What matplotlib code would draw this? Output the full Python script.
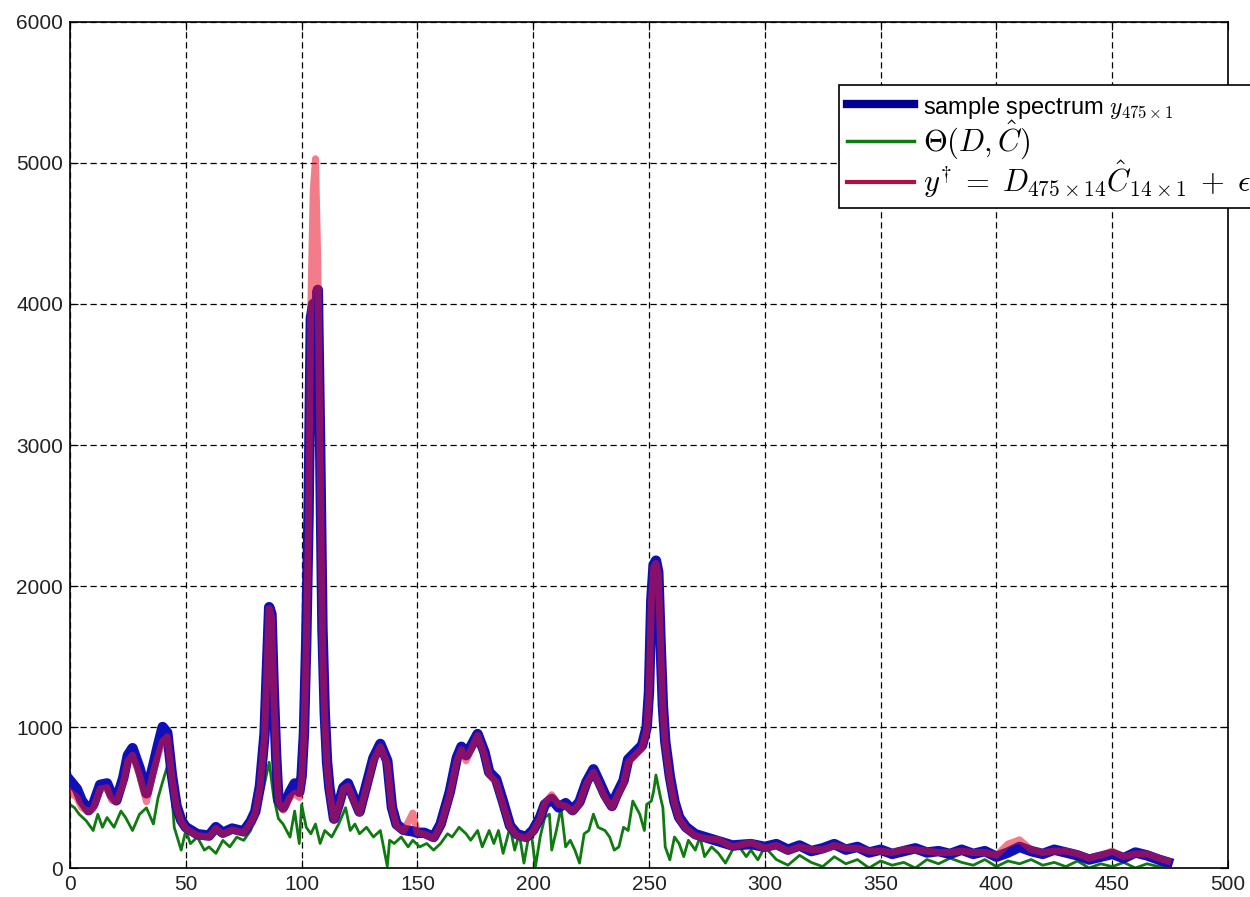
import matplotlib

matplotlib.use("Agg")
import matplotlib.pyplot as plt

# sample index positions shared by the measured spectrum and the fit
x_fit = [0, 3, 5, 8, 10, 13, 16, 18, 20, 23, 25, 27, 30, 33, 36, 38, 40, 42, 44,
         46, 48, 50, 55, 60, 63, 66, 70, 75, 78, 80, 82, 84, 85, 86, 87, 88, 89,
         90, 92, 95, 97, 99, 100, 101, 102, 103, 104, 105, 106, 107, 108, 109,
         110, 111, 112, 114, 116, 118, 120, 123, 125, 128, 131, 134, 137, 139,
         141, 144, 148, 150, 153, 157, 160, 164, 167, 169, 171, 174, 176, 179,
         181, 184, 187, 190, 193, 197, 200, 203, 205, 208, 211, 214, 217, 220,
         223, 226, 228, 231, 234, 236, 239, 241, 244, 247, 249, 250, 251, 252,
         253, 254, 255, 256, 257, 259, 261, 263, 266, 270, 274, 280, 286, 294,
         300, 305, 310, 315, 320, 325, 330, 335, 340, 345, 350, 355, 360, 365,
         370, 375, 380, 385, 390, 395, 400, 405, 410, 415, 420, 425, 430, 435,
         440, 445, 450, 455, 460, 465, 470, 474]

y_sample = [620, 560, 480, 410, 450, 590, 600, 520, 480, 640, 800, 850, 710, 530,
            730, 870, 1000, 960, 660, 440, 340, 290, 240, 230, 290, 250, 280, 260,
            330, 400, 580, 950, 1400, 1850, 1800, 1250, 800, 480, 430, 540, 600,
            540, 650, 950, 1600, 2500, 3900, 4000, 3900, 4100, 3000, 1700, 1100,
            750, 570, 350, 450, 570, 600, 480, 400, 590, 780, 880, 760, 430, 310,
            270, 260, 250, 250, 220, 310, 540, 780, 860, 800, 890, 950, 820, 680,
            630, 470, 300, 240, 220, 270, 360, 450, 490, 430, 460, 410, 470, 610,
            700, 630, 520, 440, 520, 620, 770, 820, 870, 1000, 1250, 1900, 2150,
            2180, 2100, 1600, 1150, 900, 650, 470, 360, 290, 240, 220, 190, 160,
            170, 150, 170, 130, 160, 120, 140, 170, 130, 150, 110, 130, 100, 120,
            140, 110, 120, 100, 130, 100, 120, 80, 110, 150, 120, 100, 130, 110,
            90, 60, 80, 100, 70, 110, 90, 60, 40]

y_recon = [540, 500, 430, 400, 420, 560, 570, 480, 470, 600, 760, 800, 660, 470,
           680, 800, 900, 930, 640, 430, 330, 280, 230, 220, 280, 240, 270, 250,
           320, 390, 570, 930, 1380, 1840, 1780, 1230, 790, 470, 410, 500, 530,
           500, 620, 930, 1550, 2450, 4000, 4800, 5030, 4300, 2900, 1600, 1050,
           720, 550, 340, 430, 560, 580, 460, 390, 570, 760, 860, 740, 420, 300,
           260, 390, 250, 240, 210, 300, 520, 760, 840, 760, 870, 940, 800, 660,
           610, 450, 290, 230, 210, 260, 350, 460, 520, 450, 440, 400, 460, 600,
           680, 610, 500, 430, 500, 600, 750, 800, 850, 980, 1230, 1880, 2130,
           2160, 2080, 1580, 1130, 880, 630, 460, 350, 280, 230, 210, 200, 150,
           180, 140, 160, 120, 150, 130, 130, 160, 140, 140, 120, 120, 110, 130,
           130, 120, 110, 110, 120, 110, 110, 90, 170, 200, 130, 110, 120, 120,
           100, 70, 90, 120, 80, 100, 100, 70, 50]

# residual term Theta(D, C_hat), noisier so sampled more densely
x_theta = [0, 2, 4, 7, 10, 12, 14, 16, 19, 22, 24, 27, 30, 33, 36, 38, 40, 42,
           44, 45, 48, 50, 52, 55, 58, 60, 63, 66, 69, 72, 75, 78, 81, 84, 86,
           88, 90, 92, 95, 97, 99, 100, 102, 104, 106, 108, 110, 113, 116, 119,
           121, 123, 125, 128, 131, 134, 137, 138, 140, 143, 146, 148, 151, 154,
           157, 160, 163, 165, 168, 171, 173, 176, 178, 181, 183, 185, 187, 190,
           192, 194, 196, 198, 199, 201, 203, 205, 207, 208, 210, 212, 214, 216,
           218, 220, 222, 224, 226, 228, 231, 233, 235, 237, 239, 241, 243, 246,
           248, 249, 251, 252, 253, 255, 256, 257, 259, 261, 263, 265, 267, 270,
           272, 274, 277, 280, 283, 286, 289, 292, 294, 297, 300, 305, 310, 315,
           320, 325, 330, 335, 340, 345, 350, 355, 360, 365, 370, 375, 380, 385,
           390, 395, 400, 405, 410, 415, 420, 425, 430, 435, 440, 445, 450, 455,
           460, 465, 470, 474]

y_theta = [450, 427, 381, 335, 266, 381, 289, 358, 289, 404, 358, 266, 381, 427,
           312, 497, 612, 720, 520, 289, 127, 266, 173, 219, 127, 150, 104, 196,
           150, 219, 196, 266, 404, 600, 750, 500, 350, 312, 219, 404, 173, 450,
           289, 243, 312, 174, 266, 220, 312, 428, 266, 312, 243, 289, 220, 266,
           12, 197, 174, 220, 150, 197, 150, 174, 127, 174, 243, 220, 289, 243,
           197, 266, 150, 266, 174, 266, 104, 289, 127, 243, 35, 220, 266, 12,
           220, 359, 382, 127, 266, 428, 150, 197, 127, 35, 243, 266, 382, 289,
           266, 220, 127, 150, 289, 266, 475, 382, 266, 451, 475, 544, 660, 498,
           428, 150, 58, 220, 174, 81, 197, 127, 220, 81, 150, 104, 35, 127, 150,
           81, 127, 58, 150, 60, 20, 90, 40, 10, 80, 30, 60, 0, 50, 20, 40, 0, 60,
           30, 70, 40, 20, 60, 10, 50, 30, 60, 20, 40, 10, 50, 0, 30, 10, 40, 0,
           30, 10, 20]

x_ticks = list(range(0, 501, 50))
y_ticks = list(range(0, 6001, 1000))

plt.rcParams.update({
    "font.family": ["Liberation Sans", "DejaVu Sans"],
    "mathtext.fontset": "cm",
    "font.size": 15,
})

fig = plt.figure(figsize=(12.5, 8.97), dpi=100)
ax = fig.add_axes([0.056, 0.0323, 0.9264, 0.9432])

ax.plot(x_theta, y_theta, color="#0f7a0f", lw=2, zorder=2,
        label=r"$\Theta(D,\hat{C})$")
ax.plot(x_fit, y_sample, color="#1010b8", lw=7.5, zorder=3,
        label=r"sample spectrum $y_{475\times1}$")
ax.plot(x_fit, y_recon, color="#e8102a", lw=5, alpha=0.55, zorder=4,
        label=r"$y^{\dagger}\;=\;D_{475\times14}\hat{C}_{14\times1}\;+\;\epsilon$")

ax.set_xlim(0, 500)
ax.set_ylim(0, 6000)
ax.set_xticks(x_ticks)
ax.set_yticks(y_ticks)
ax.tick_params(direction="in", top=True, right=True, length=6,
               labelsize=15, labelcolor="#222222", pad=5)
ax.grid(True, color="black", ls=(0, (5, 3)), lw=0.9)
for sp in ax.spines.values():
    sp.set_linewidth(1.2)

handles, labels = ax.get_legend_handles_labels()
order = [1, 0, 2]
leg = ax.legend([handles[i] for i in order], [labels[i] for i in order],
                loc="upper left", bbox_to_anchor=(0.664, 0.925),
                borderaxespad=0, fontsize=22, handlelength=2.2,
                handletextpad=0.3, labelspacing=-0.1, borderpad=0.25,
                fancybox=False, framealpha=1, edgecolor="black")
leg.get_frame().set_linewidth(1.2)
leg.get_texts()[0].set_fontsize(17)
leg.get_lines()[0].set_color("#000090")
leg.get_lines()[2].set_color("#b01040")
for ln in leg.get_lines():
    ln.set_alpha(1)
leg.get_lines()[0].set_linewidth(6)
leg.get_lines()[1].set_linewidth(2.5)
leg.get_lines()[2].set_linewidth(3)

fig.savefig("out.png", dpi=100)
